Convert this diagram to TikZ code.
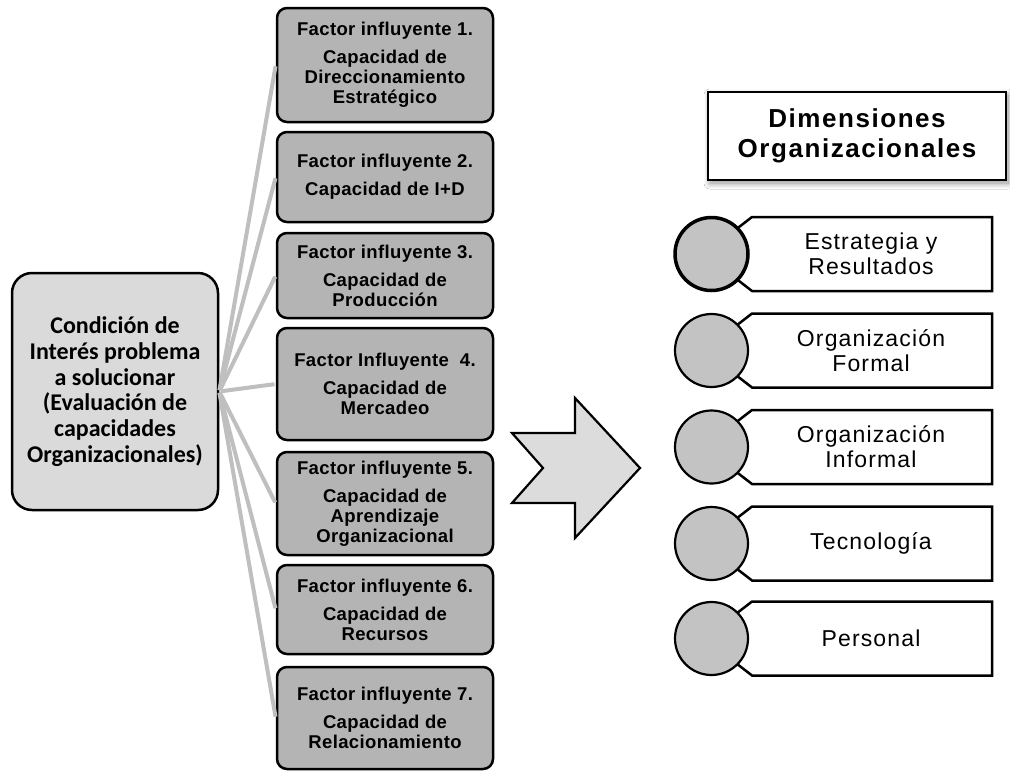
\documentclass[tikz,border=0pt]{standalone}
\usepackage{fontspec}
\setmainfont{Liberation Sans}
\newfontfamily\calibfont{Carlito}
\newfontfamily\facfont[LetterSpace=2]{Liberation Sans}
\newfontfamily\dimfont[LetterSpace=5]{Liberation Sans}
\newfontfamily\titfont[LetterSpace=6]{Liberation Sans}
\usetikzlibrary{shadows.blur}
\definecolor{leftfill}{HTML}{DADADA}
\definecolor{facfill}{HTML}{B4B4B4}
\definecolor{connc}{HTML}{BFBFBF}
\definecolor{circfill}{HTML}{C3C3C3}
\definecolor{arrowfill}{HTML}{DCDCDC}
\begin{document}
\begin{tikzpicture}[x=1pt,y=-1pt,
  leftbox/.style={draw=black, line width=2.5pt, fill=leftfill, rounded corners=20pt,
    minimum width=206pt, minimum height=237pt, align=center, inner sep=0pt,
    font=\calibfont\bfseries\fontsize{24}{25.7}\selectfont},
  facbox/.style={draw=black, line width=2.5pt, fill=facfill, rounded corners=10pt,
    minimum width=216pt, align=center, inner sep=0pt,
    font=\facfont\bfseries\fontsize{18.5}{20}\selectfont},
  conn/.style={draw=connc, line width=4pt, shorten <=1.3pt, shorten >=1.3pt},
  itembox/.style={draw=black, line width=2.5pt, fill=white},
  dimcirc/.style={circle, draw=black, line width=2.2pt, fill=circfill, minimum size=73pt, inner sep=0pt},
  dimlabel/.style={align=center, inner sep=0pt, font=\dimfont\fontsize{23}{25}\selectfont},
  titlebox/.style={draw=black, line width=2pt, fill=white, minimum width=298pt, minimum height=88pt,
    align=center, inner sep=0pt, font=\titfont\bfseries\fontsize{26}{30}\selectfont,
    blur shadow={shadow xshift=2pt, shadow yshift=-3pt, shadow blur steps=12, shadow blur radius=6pt, shadow opacity=45}}
]
\useasboundingbox (0,0) rectangle (1010,774);
\fill[white] (0,0) rectangle (1010,774);

% left box
\node[leftbox] (lbox) at (115,391.5) {Condición de\\Interés problema\\a solucionar\\(Evaluación de\\capacidades\\Organizacionales)};

% factor boxes
\node[facbox, minimum height=114pt] (f1) at (385,65) {Factor influyente 1.\\[8pt]Capacidad de\\Direccionamiento\\Estratégico};
\node[facbox, minimum height=90pt] (f2) at (385,177) {Factor influyente 2.\\[8pt]Capacidad de I+D};
\node[facbox, minimum height=85pt] (f3) at (385,275.5) {Factor influyente 3.\\[8pt]Capacidad de\\Producción};
\node[facbox, minimum height=112pt] (f4) at (385,384) {Factor Influyente\ \ 4.\\[8pt]Capacidad de\\Mercadeo};
\node[facbox, minimum height=103pt] (f5) at (385,503.5) {Factor influyente 5.\\[8pt]Capacidad de\\Aprendizaje\\Organizacional};
\node[facbox, minimum height=89pt] (f6) at (385,609.5) {Factor influyente 6.\\[8pt]Capacidad de\\Recursos};
\node[facbox, minimum height=102pt] (f7) at (385,718) {Factor influyente 7.\\[8pt]Capacidad de\\Relacionamiento};

% connectors
\draw[conn] (lbox.east) -- (f1.west);
\draw[conn] (lbox.east) -- (f2.west);
\draw[conn] (lbox.east) -- (f3.west);
\draw[conn] (lbox.east) -- (f4.west);
\draw[conn] (lbox.east) -- (f5.west);
\draw[conn] (lbox.east) -- (f6.west);
\draw[conn] (lbox.east) -- (f7.west);

% big arrow
\draw[line width=2.2pt, fill=arrowfill, line join=miter]
  (512,433) -- (575,433) -- (575,398) -- (640,468) -- (575,538) -- (575,503) -- (512,503) -- (543,468) -- cycle;

% title
\node[titlebox] (title) at (857,136) {Dimensiones\\Organizacionales};

% dimension items
\foreach \c/\n/\t in {254/d1/{Estrategia y\\Resultados},350.5/d2/{Organización\\Formal},447/d3/{Organización\\Informal},543.5/d4/{Tecnología},638.5/d5/{Personal}}{
  \draw[itembox] (752,\c-37) -- (992,\c-37) -- (992,\c+37) -- (752,\c+37) -- (730,\c+20) -- (730,\c-20) -- cycle;
  \node[dimlabel] (\n) at (871,\c) {\t};
}
\node[dimcirc, line width=3.5pt] (c1) at (711.5,254) {};
\node[dimcirc] (c2) at (711.5,350.5) {};
\node[dimcirc] (c3) at (711.5,447) {};
\node[dimcirc] (c4) at (711.5,543.5) {};
\node[dimcirc] (c5) at (711.5,638.5) {};
\end{tikzpicture}
\end{document}
